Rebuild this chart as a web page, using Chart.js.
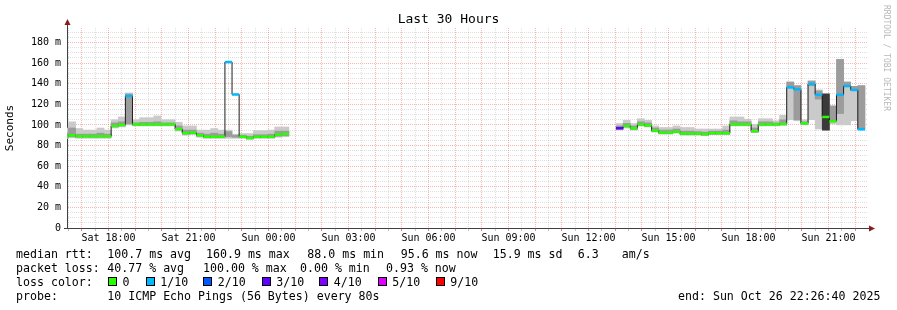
<!DOCTYPE html>
<html>
<head>
<meta charset="utf-8">
<script src="https://cdn.jsdelivr.net/npm/chart.js@4.4.0/dist/chart.umd.min.js"></script>
<style>
  body { margin: 0; background: #fff; }
  #wrap { position: relative; width: 897px; height: 310px; font-family: 'DejaVu Sans Mono', monospace; color: #000; }
  #wrap canvas { position: absolute; left: 0; top: 0; }
  .t { position: absolute; font-size: 11.6px; line-height: 14px; white-space: pre; }
  .sq { position: absolute; width: 9px; height: 9px; box-sizing: border-box; border: 1px solid #000; }
  #title { position: absolute; left: 0; top: 11px; width: 897px; text-align: center; font-size: 13px; line-height: 16px; }
  #mark { position: absolute; left: 882px; top: 5px; font-size: 8px; line-height: 8px; color: #b8b8b8; writing-mode: vertical-rl; }
</style>
</head>
<body>
<div id="wrap">
  <canvas id="c" width="897" height="310"></canvas>
  <div id="title">Last 30 Hours</div>
  <div id="mark">RRDTOOL / TOBI OETIKER</div>
  <div id="legend"></div>
</div>
<script>
// time axis is in minutes from Sat 00:00
var stepMinutes = 16;
var viewStart = 16 * 60 + 26 + 40 / 60;   // Sat 16:26:40
var viewEnd = viewStart + 30 * 60;         // Sun 22:26:40
var leftStart = 16 * 60 + 14;              // Sat 16:14
var rightStart = 37 * 60 + 2;              // Sun 13:02

// Sat afternoon / evening block
var leftMedian = [89, 90, 89, 89, 89, 89, 89, 99, 100, 128, 100.5, 100.5, 100.5, 100.5, 100.5, 100.5,
                  96, 92, 92.5, 90, 88.5, 88.5, 88.5, 161, 129.5, 88.5, 87.3, 88.5, 88.5, 88.5, 90.5, 91.3];
var leftLoss = [0, 0, 0, 0, 0, 0, 0, 0, 0, 1, 0, 0, 0, 0, 0, 0,
                0, 0, 0, 0, 0, 0, 0, 1, 1, 0, 0, 0, 0, 0, 0, 0];
var leftSmokeLow = [87, 87.5, 87, 87, 87, 87, 87, 97, 98, 100, 99, 99, 99, 99, 99, 99,
                    94, 90, 90.5, 88, 87, 87, 87, 87, 87, 87, 86, 87, 87, 87, 88, 88.5];
var leftSmokeHigh = [97, 103, 96.5, 95, 95, 97, 95, 105, 107.7, 131, 105, 107, 107, 108.7, 105, 105,
                     102.6, 99, 99, 95, 95, 96.5, 95, 95, 91, 91.6, 91.6, 94.5, 94.5, 95, 98, 98];
var leftCoreLow = [88, 88.5, 88, 88, 88, 88, 88, 98, 99, 101, 99.5, 99.5, 99.5, 99.5, 99.5, 99.5,
                   95, 91, 91.5, 89, 87.5, 87.5, 87.5, 88.7, 88, 87.5, 86.5, 87.5, 87.5, 87.5, 89, 89.5];
var leftCoreHigh = [92, 97, 91, 91, 91, 92, 91, 102, 103, 130, 102, 102.5, 102.5, 103, 102, 102,
                    99, 95, 95, 92, 91, 92, 91, 93.5, 90, 90, 89, 90.5, 90.5, 91, 94, 94];

// Sun afternoon / evening block
var rightMedian = [96.8, 99, 96.8, 100.6, 99.5, 94.5, 92.6, 92.6, 93.4, 91.6, 91.6, 91.6, 91, 92, 92, 92,
                   100.6, 100.5, 100.5, 93.9, 100.5, 100.5, 100.5, 101, 136.3, 134.5, 101.6, 139.7,
                   129.2, 107.7, 103.5, 129.2, 137.7, 134, 95.8];
var rightLoss = [3, 0, 0, 0, 0, 0, 0, 0, 0, 0, 0, 0, 0, 0, 0, 0,
                 0, 0, 0, 0, 0, 0, 0, 0, 1, 1, 0, 1, 1, 0, 0, 1, 1, 1, 1];
var rightSmokeLow = [95, 97, 95, 99, 98, 93, 91, 91, 92, 90, 90, 90, 89.5, 90.5, 90.5, 90.5,
                     99, 99, 99, 92.5, 99, 99, 99, 99.5, 105, 104, 100, 105, 96, 95, 101, 100, 100, 104, 95];
var rightSmokeHigh = [101.3, 104.5, 101.3, 106, 104.5, 99, 97.5, 97.5, 99, 97.5, 97.5, 96, 96, 96, 96, 99,
                      107.7, 107.7, 105.5, 100.6, 106, 106, 104, 109.4, 141.6, 138.4, 105, 142.6,
                      134, 130, 119, 163.5, 141.6, 137.4, 138.4];
var rightCoreLow = [95.5, 98, 95.5, 99.5, 98.5, 93.5, 91.5, 91.5, 92.5, 90.5, 90.5, 90.5, 90, 91, 91, 91,
                    99.5, 99.5, 99.5, 93, 99.5, 99.5, 99.5, 100, 137, 105, 100.5, 138, 125, 95, 104, 111, 137, 133, 96];
var rightCoreHigh = [99, 101.5, 99, 103, 102, 97, 95, 95, 96, 94, 94, 93.5, 93, 94, 94, 95,
                     104, 103, 103, 97, 103, 103, 102, 105, 141.6, 138, 103, 142.6, 133, 130, 118, 163.5,
                     141.6, 137.4, 138];
var rightDarkBin = [29];
var rightDarkLow = [95];
var rightDarkHigh = [130];

var lossColors = { 0: '#26ff00', 1: '#00b8ff', 2: '#0059ff', 3: '#5e00ff', 4: '#7e00ff', 5: '#dd00ff', 9: '#ff0000' };
var lossLabels = ['0', '1/10', '2/10', '3/10', '4/10', '5/10', '9/10'];
var lossKeys = [0, 1, 2, 3, 4, 5, 9];

function binCenter(start, i) { return start + (i + 0.5) * stepMinutes; }

function band(start, lo, hi) {
    var out = [];
    for (var i = 0; i < lo.length; i++) out.push({ x: binCenter(start, i), y: [lo[i], hi[i]] });
    return out;
}
function points(start, vals) {
    var out = [];
    for (var i = 0; i < vals.length; i++) out.push({ x: binCenter(start, i), y: vals[i] });
    return out;
}

var outer = band(leftStart, leftSmokeLow, leftSmokeHigh).concat(band(rightStart, rightSmokeLow, rightSmokeHigh));
var inner = band(leftStart, leftCoreLow, leftCoreHigh).concat(band(rightStart, rightCoreLow, rightCoreHigh));
var dark = [];
for (var d = 0; d < rightDarkBin.length; d++) {
    dark.push({ x: binCenter(rightStart, rightDarkBin[d]), y: [rightDarkLow[d], rightDarkHigh[d]] });
}
var medianPts = points(leftStart, leftMedian).concat(points(rightStart, rightMedian));
var medianLine = points(leftStart, leftMedian)
    .concat([{ x: (leftStart + rightStart) / 2, y: null }])
    .concat(points(rightStart, rightMedian));
var stripColors = leftLoss.concat(rightLoss).map(function (l) { return lossColors[l]; });

var font = 'DejaVu Sans Mono';
var red = 'rgba(235,50,50,0.36)';
var gray = 'rgba(150,150,150,0.3)';

function timeLabel(v) {
    var h = Math.round(v / 60);
    var day = h < 24 ? 'Sat' : 'Sun';
    h = h % 24;
    return day + ' ' + (h < 10 ? '0' : '') + h + ':00';
}

var barOpts = { type: 'bar', grouped: false, barPercentage: 1, categoryPercentage: 1, borderWidth: 0 };

var axisArrows = {
    id: 'axisArrows',
    afterDraw: function (chart) {
        var ctx = chart.ctx, a = chart.chartArea;
        ctx.save();
        ctx.strokeStyle = '#404040';
        ctx.lineWidth = 1;
        ctx.beginPath();
        ctx.moveTo(a.left + 0.5, a.top);
        ctx.lineTo(a.left + 0.5, 24);
        ctx.moveTo(a.right, a.bottom + 0.5);
        ctx.lineTo(a.right + 3, a.bottom + 0.5);
        ctx.stroke();
        ctx.fillStyle = '#8b1a1a';
        ctx.beginPath();
        ctx.moveTo(a.left + 0.5, 19);
        ctx.lineTo(a.left - 2.5, 25);
        ctx.lineTo(a.left + 3.5, 25);
        ctx.closePath();
        ctx.fill();
        ctx.beginPath();
        ctx.moveTo(a.right + 8, a.bottom + 0.5);
        ctx.lineTo(a.right + 2, a.bottom - 2.5);
        ctx.lineTo(a.right + 2, a.bottom + 3.5);
        ctx.closePath();
        ctx.fill();
        ctx.restore();
    }
};

new Chart(document.getElementById('c'), {
    type: 'bar',
    data: {
        datasets: [
            Object.assign({ data: outer, backgroundColor: '#cacaca', order: 5 }, barOpts),
            Object.assign({ data: inner, backgroundColor: '#9c9c9c', order: 4 }, barOpts),
            Object.assign({ data: dark, backgroundColor: '#3a3a3a', order: 3 }, barOpts),
            {
                type: 'line', data: medianLine, stepped: 'middle', borderColor: '#1e1e1e', borderWidth: 1,
                pointRadius: 0, spanGaps: false, fill: false, order: 2
            },
            {
                type: 'line', data: medianPts, showLine: false, pointStyle: 'line', pointRadius: 3.6,
                pointBorderWidth: 2.5, pointBorderColor: stripColors, pointBackgroundColor: stripColors, order: 1
            }
        ]
    },
    options: {
        responsive: false,
        animation: false,
        events: [],
        layout: { padding: { left: 0, right: 30, top: 28, bottom: 62 } },
        plugins: { legend: { display: false }, tooltip: { enabled: false } },
        scales: {
            x: {
                type: 'linear', min: viewStart, max: viewEnd, offset: false,
                afterBuildTicks: function (s) {
                    var t = [];
                    for (var m = 990; m <= 2760; m += 30) t.push({ value: m });
                    s.ticks = t;
                },
                afterFit: function (s) { s.height = 20; },
                grid: {
                    offset: false, tickLength: 3,
                    color: function (c) { return c.tick && c.tick.value % 60 === 0 ? red : gray; },
                    tickColor: function (c) { return c.tick && c.tick.value % 60 === 0 ? 'rgba(235,40,40,0.6)' : 'rgba(140,140,140,0.5)'; }
                },
                border: { color: '#404040', width: 1, dash: [1, 1] },
                ticks: {
                    autoSkip: false, maxRotation: 0, padding: 1, color: '#000',
                    font: { family: font, size: 10 },
                    callback: function (v) { return v % 180 === 0 ? timeLabel(v) : ''; }
                }
            },
            y: {
                min: 0, max: 194,
                afterBuildTicks: function (s) {
                    var t = [];
                    for (var v = 0; v <= 190; v += 5) t.push({ value: v });
                    s.ticks = t;
                },
                afterFit: function (s) { s.width = 67; },
                grid: {
                    tickLength: 3,
                    color: function (c) {
                        var v = c.tick ? c.tick.value : 1;
                        return v === 0 ? 'rgba(0,0,0,0)' : (v % 20 === 0 ? red : gray);
                    },
                    tickColor: function (c) { return c.tick && c.tick.value === 0 ? '#404040' : 'rgba(0,0,0,0)'; }
                },
                border: { color: '#404040', width: 1, dash: [1, 1] },
                ticks: {
                    autoSkip: false, padding: 3, color: '#000',
                    font: { family: font, size: 10 },
                    callback: function (v) { return v % 20 === 0 ? (v === 0 ? '0' : v + ' m') : ''; }
                },
                title: {
                    display: true, text: 'Seconds', color: '#000',
                    font: { family: font, size: 11 }, padding: { top: 4, bottom: 0 }
                }
            }
        }
    },
    plugins: [axisArrows]
});

// text legend under the graph
var legendRows = [
    [247, [[16, 'median rtt:'], [107.3, '100.7 ms avg'], [206, '160.9 ms max'], [307.3, '88.0 ms min'],
           [400.7, '95.6 ms now'], [492.7, '15.9 ms sd'], [577.7, '6.3'], [621.7, 'am/s']]],
    [261, [[16, 'packet loss:'], [107.3, '40.77 % avg'], [203, '100.00 % max'], [300, '0.00 % min'],
           [386, '0.93 % now']]],
    [275, [[16, 'loss color:']]],
    [289, [[16, 'probe:'], [107.3, '10 ICMP Echo Pings (56 Bytes) every 80s'], [678, 'end: Sun Oct 26 22:26:40 2025']]]
];
var swatchX = [108, 145.7, 203.3, 261.7, 319.3, 377.7, 435.7];
var legend = document.getElementById('legend');
legendRows.forEach(function (row) {
    row[1].forEach(function (p) {
        var s = document.createElement('div');
        s.className = 't';
        s.style.left = p[0] + 'px';
        s.style.top = row[0] + 'px';
        s.textContent = p[1];
        legend.appendChild(s);
    });
});
lossKeys.forEach(function (k, i) {
    var sq = document.createElement('div');
    sq.className = 'sq';
    sq.style.left = swatchX[i] + 'px';
    sq.style.top = '277px';
    sq.style.background = lossColors[k];
    legend.appendChild(sq);
    var s = document.createElement('div');
    s.className = 't';
    s.style.left = (swatchX[i] + 14.5) + 'px';
    s.style.top = '275px';
    s.textContent = lossLabels[i];
    legend.appendChild(s);
});
</script>
</body>
</html>
